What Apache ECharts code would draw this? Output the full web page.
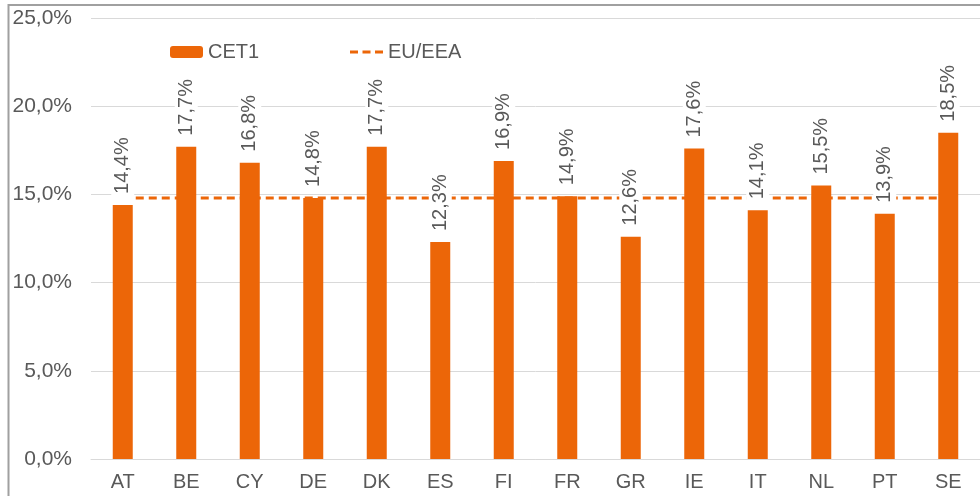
<!DOCTYPE html>
<html>
<head>
<meta charset="utf-8">
<script src="https://cdn.jsdelivr.net/npm/echarts@6/dist/echarts.min.js"></script>
<style>
  html, body { margin: 0; padding: 0; background: #fff; }
  #chart { width: 980px; height: 496px; }
</style>
</head>
<body>
<div id="chart"></div>
<script>
// 国家 / CET1 比率
const categories = ['AT', 'BE', 'CY', 'DE', 'DK', 'ES', 'FI', 'FR', 'GR', 'IE', 'IT', 'NL', 'PT', 'SE'];
const cet1 = [14.4, 17.7, 16.8, 14.8, 17.7, 12.3, 16.9, 14.9, 12.6, 17.6, 14.1, 15.5, 13.9, 18.5];
const euEea = [14.8, 14.8, 14.8, 14.8, 14.8, 14.8, 14.8, 14.8, 14.8, 14.8, 14.8, 14.8, 14.8, 14.8];

const fmt = (v) => v.toFixed(1).replace('.', ',') + '%';
const txt = '#595959';
const orange = '#EC6608';
const dashIcon = 'path://M0,0h8v3h-8z M12.5,0h8v3h-8z M25,0h8v3h-8z';

const chart = echarts.init(document.getElementById('chart'));
chart.setOption({
  animation: false,
  textStyle: { fontFamily: 'Liberation Sans, Arial, sans-serif' },
  graphic: [{
    type: 'rect',
    shape: { x: 8.5, y: 5, width: 1000, height: 600 },
    style: { fill: 'none', stroke: '#a0a0a0', lineWidth: 2 },
    silent: true
  }],
  legend: [
    {
      left: 170,
      top: 42,
      padding: 0,
      itemWidth: 33,
      itemHeight: 12,
      textStyle: { color: txt, fontSize: 20 },
      data: ['CET1']
    },
    {
      left: 350,
      top: 42,
      padding: 0,
      itemWidth: 33,
      itemHeight: 3,
      textStyle: { color: txt, fontSize: 20 },
      data: [{ name: 'EU/EEA', icon: dashIcon, itemStyle: { color: orange } }]
    }
  ],
  grid: { left: 91, right: -1, top: 18, bottom: 37 },
  xAxis: {
    type: 'category',
    data: categories,
    axisTick: { show: false },
    axisLine: { lineStyle: { color: '#d9d9d9', width: 1 } },
    axisLabel: { color: txt, fontSize: 20, margin: 13 }
  },
  yAxis: {
    type: 'value',
    min: 0,
    max: 25,
    interval: 5,
    axisLabel: { color: txt, fontSize: 21, margin: 19, formatter: fmt },
    splitLine: { lineStyle: { color: '#d9d9d9', width: 1 } }
  },
  series: [
    {
      name: 'CET1',
      type: 'bar',
      data: cet1,
      barWidth: 20,
      z: 3,
      itemStyle: { color: orange },
      label: {
        show: true,
        position: 'top',
        rotate: 90,
        align: 'left',
        verticalAlign: 'middle',
        distance: 4,
        color: txt,
        fontSize: 20,
        lineHeight: 23,
        backgroundColor: '#fff',
        padding: [0, 2, 0, 7],
        formatter: (p) => fmt(p.value)
      }
    },
    {
      name: 'EU/EEA',
      type: 'line',
      data: euEea,
      z: 2,
      symbol: 'none',
      itemStyle: { color: orange },
      lineStyle: { color: orange, width: 3, type: [8, 5] }
    }
  ]
});
</script>
</body>
</html>
